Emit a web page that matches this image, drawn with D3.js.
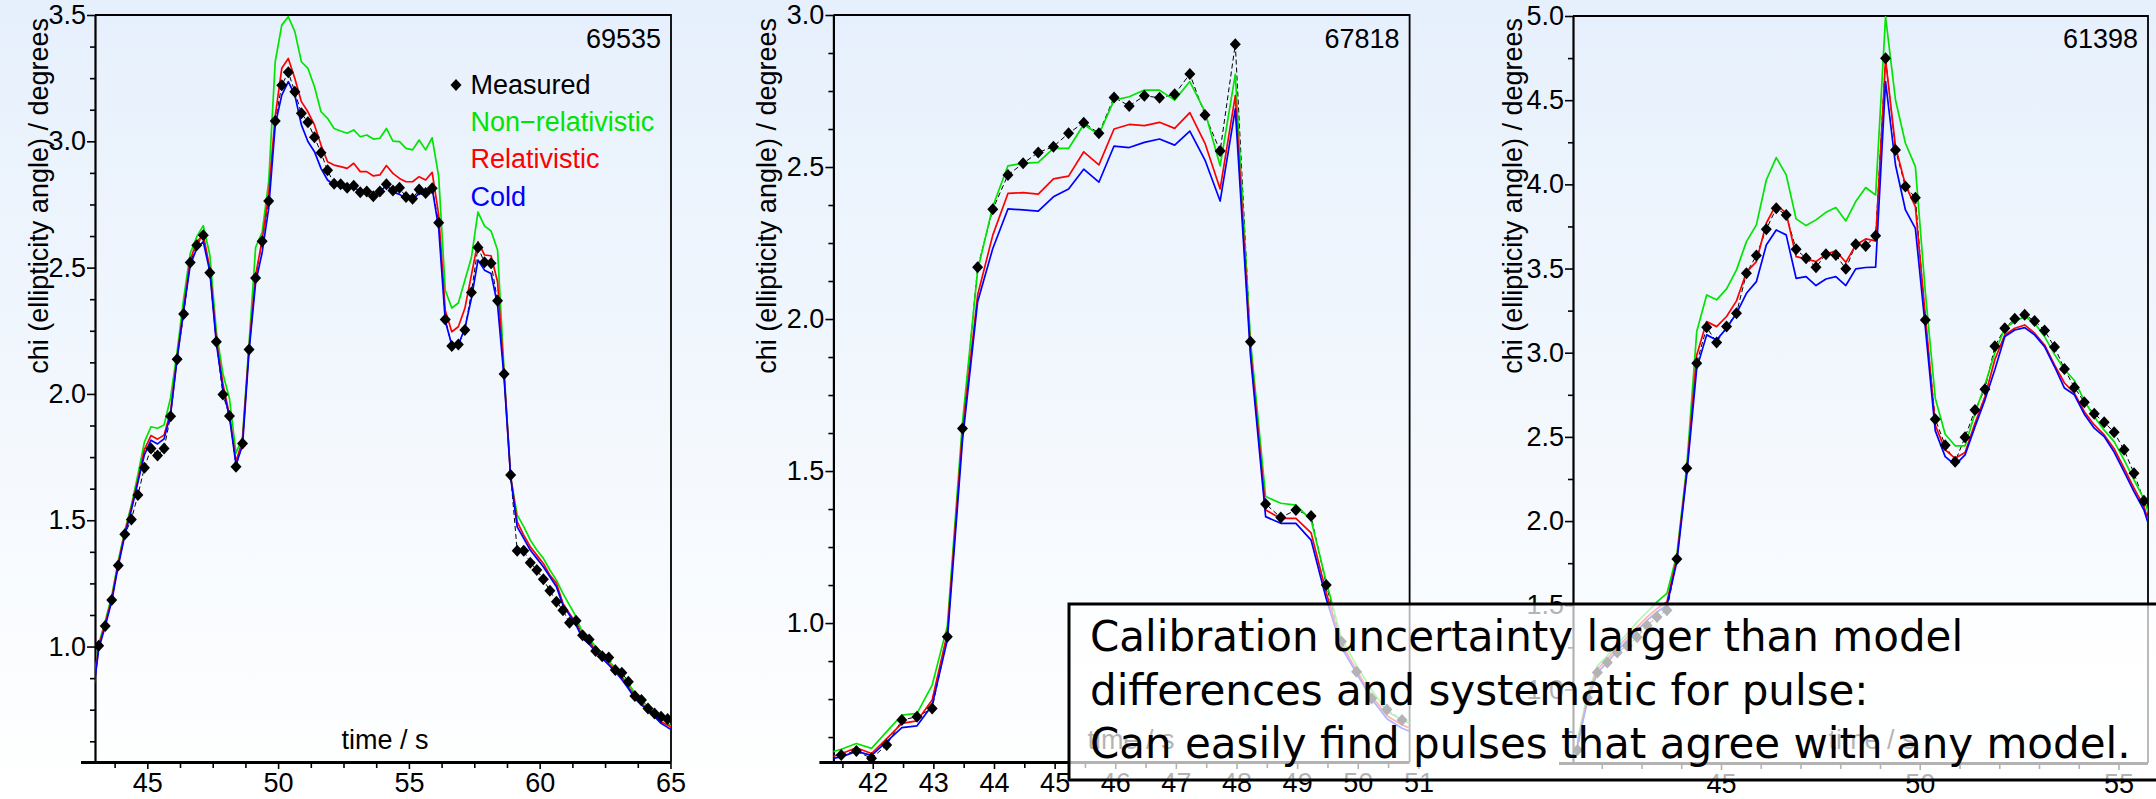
<!DOCTYPE html>
<html>
<head>
<meta charset="utf-8">
<script src="https://cdn.jsdelivr.net/npm/d3@7"></script>
<style>
  html, body { margin: 0; padding: 0; background: #ffffff; }
  svg { display: block; }
</style>
</head>
<body>
<script>
// ---------- Shot 69535 ----------
const p1Time = [43.14,43.39,43.64,43.89,44.14,44.39,44.64,44.89,45.14,45.39,
  45.64,45.89,46.14,46.39,46.64,46.89,47.14,47.39,47.64,47.89,
  48.14,48.39,48.64,48.89,49.14,49.39,49.64,49.89,50.14,50.39,
  50.64,50.89,51.14,51.39,51.64,51.89,52.14,52.39,52.64,52.89,
  53.14,53.39,53.64,53.89,54.14,54.39,54.64,54.89,55.14,55.39,
  55.64,55.89,56.14,56.39,56.64,56.89,57.14,57.39,57.64,57.89,
  58.14,58.39,58.64,58.89,59.14,59.39,59.64,59.89,60.14,60.39,
  60.64,60.89,61.14,61.39,61.64,61.89,62.14,62.39,62.64,62.89,
  63.14,63.39,63.64,63.89,64.14,64.39,64.64,64.89];
const p1Measured = [1.003,1.081,1.184,1.321,1.445,1.503,1.600,1.708,1.784,1.756,
  1.784,1.912,2.137,2.316,2.520,2.589,2.628,2.480,2.207,1.998,
  1.913,1.712,1.804,2.176,2.459,2.604,2.764,3.080,3.222,3.273,
  3.196,3.111,3.075,3.016,2.955,2.885,2.832,2.830,2.816,2.824,
  2.798,2.801,2.783,2.801,2.830,2.805,2.816,2.780,2.773,2.809,
  2.795,2.814,2.678,2.295,2.190,2.196,2.253,2.402,2.580,2.521,
  2.517,2.369,2.079,1.679,1.379,1.379,1.332,1.303,1.266,1.221,
  1.177,1.144,1.094,1.102,1.045,1.028,0.982,0.962,0.957,0.907,
  0.896,0.861,0.804,0.788,0.755,0.735,0.722,0.713];
// model curves are sampled one step beyond each end of the measured window
const p1ModelTime = [42.89].concat(p1Time, [65.14]);
const p1NonRel = [0.79,
  1.01,1.10,1.20,1.34,1.46,1.56,1.68,1.81,1.87,1.864,
  1.877,1.985,2.167,2.378,2.556,2.622,2.666,2.55,2.246,2.08,
  1.982,1.765,1.83,2.2,2.58,2.64,2.84,3.315,3.46,3.493,
  3.434,3.315,3.289,3.216,3.117,3.091,3.051,3.041,3.032,3.045,
  3.018,3.025,3.009,3.012,3.051,3.001,2.999,2.972,2.966,3.005,
  2.966,3.014,2.86,2.41,2.34,2.36,2.45,2.54,2.72,2.665,
  2.645,2.57,2.09,1.672,1.521,1.475,1.422,1.382,1.349,1.303,
  1.263,1.210,1.164,1.118,1.052,1.032,0.999,0.973,0.944,0.914,
  0.880,0.854,0.815,0.788,0.762,0.735,0.716,0.696,
  0.675];
const p1Rel = [0.78,
  1.00,1.09,1.19,1.33,1.45,1.55,1.66,1.78,1.835,1.821,
  1.837,1.93,2.147,2.34,2.53,2.603,2.629,2.497,2.213,2.04,
  1.916,1.732,1.817,2.185,2.47,2.61,2.79,3.10,3.289,3.328,
  3.249,3.157,3.117,3.065,2.985,2.919,2.906,2.90,2.893,2.913,
  2.88,2.88,2.863,2.867,2.904,2.873,2.853,2.84,2.84,2.86,
  2.847,2.877,2.708,2.33,2.246,2.266,2.339,2.471,2.603,2.55,
  2.547,2.444,2.075,1.675,1.494,1.441,1.395,1.362,1.329,1.283,
  1.250,1.171,1.131,1.092,1.039,1.019,0.986,0.960,0.933,0.907,
  0.880,0.841,0.801,0.775,0.751,0.725,0.702,0.689,
  0.672];
const p1Cold = [0.78,
  0.99,1.08,1.18,1.32,1.44,1.54,1.65,1.76,1.817,1.802,
  1.822,1.92,2.14,2.33,2.51,2.576,2.603,2.484,2.20,2.02,
  1.91,1.72,1.797,2.17,2.44,2.56,2.735,3.065,3.183,3.236,
  3.183,3.065,2.999,2.959,2.893,2.847,2.827,2.824,2.814,2.820,
  2.80,2.798,2.781,2.798,2.827,2.80,2.79,2.774,2.768,2.794,
  2.787,2.814,2.655,2.29,2.194,2.194,2.26,2.378,2.53,2.49,
  2.477,2.352,2.062,1.67,1.474,1.428,1.382,1.349,1.316,1.276,
  1.237,1.164,1.125,1.085,1.032,1.010,0.980,0.953,0.927,0.900,
  0.870,0.834,0.795,0.768,0.749,0.722,0.696,0.680,
  0.665];

// ---------- Shot 67818 ----------
const p2Time = [41.48,41.73,41.98,42.23,42.48,42.73,42.98,43.23,43.48,43.73,
  43.98,44.23,44.48,44.73,44.98,45.23,45.48,45.73,45.98,46.23,
  46.48,46.73,46.98,47.23,47.48,47.73,47.98,48.23,48.48,48.73,
  48.98,49.23,49.48,49.73,49.98,50.23,50.48,50.73];
const p2Measured = [0.566,0.579,0.555,0.599,0.681,0.692,0.719,0.955,1.640,2.170,
  2.361,2.474,2.512,2.548,2.567,2.611,2.646,2.611,2.729,2.701,
  2.734,2.728,2.739,2.806,2.671,2.553,2.904,1.925,1.392,1.347,
  1.372,1.352,1.125,0.939,0.840,0.752,0.716,0.681];
const p2ModelTime = [41.23].concat(p2Time, [50.98]);
const p2NonRel = [0.57,
  0.585,0.604,0.588,0.643,0.697,0.703,0.796,0.99,1.66,2.16,
  2.370,2.504,2.512,2.515,2.561,2.561,2.640,2.607,2.720,2.731,
  2.753,2.753,2.720,2.781,2.682,2.504,2.805,1.93,1.416,1.394,
  1.388,1.339,1.136,0.95,0.86,0.78,0.71,0.681,
  0.66];
const p2Rel = [0.555,
  0.57,0.59,0.571,0.62,0.67,0.678,0.747,0.966,1.63,2.079,
  2.276,2.413,2.416,2.411,2.461,2.470,2.550,2.507,2.625,2.640,
  2.636,2.647,2.627,2.679,2.578,2.428,2.735,1.90,1.372,1.344,
  1.344,1.297,1.10,0.93,0.845,0.76,0.695,0.665,
  0.645];
const p2Cold = [0.55,
  0.56,0.578,0.565,0.61,0.656,0.662,0.73,0.944,1.6,2.057,
  2.232,2.362,2.359,2.355,2.402,2.428,2.493,2.450,2.569,2.564,
  2.581,2.592,2.572,2.618,2.523,2.388,2.691,1.88,1.35,1.328,
  1.328,1.273,1.08,0.92,0.835,0.75,0.685,0.654,
  0.635];

// ---------- Shot 61398 ----------
const p3Time = [41.39,41.64,41.89,42.14,42.39,42.64,42.89,43.14,43.39,43.64,
  43.89,44.14,44.39,44.64,44.89,45.14,45.39,45.64,45.89,46.14,
  46.39,46.64,46.89,47.14,47.39,47.64,47.89,48.14,48.39,48.64,
  48.89,49.14,49.39,49.64,49.89,50.14,50.39,50.64,50.89,51.14,
  51.39,51.64,51.89,52.14,52.39,52.64,52.89,53.14,53.39,53.64,
  53.89,54.14,54.39,54.64,54.89,55.14,55.39,55.64];
const p3Measured = [0.64,0.95,1.10,1.16,1.22,1.26,1.31,1.38,1.43,1.47,
  1.774,2.314,2.938,3.151,3.060,3.155,3.234,3.472,3.577,3.733,
  3.858,3.818,3.614,3.561,3.508,3.585,3.581,3.498,3.644,3.634,
  3.694,4.749,4.204,3.987,3.921,3.195,2.605,2.450,2.353,2.498,
  2.660,2.783,3.038,3.145,3.201,3.225,3.189,3.132,3.034,2.903,
  2.794,2.706,2.637,2.587,2.527,2.423,2.284,2.12];
const p3ModelTime = p3Time.concat([55.89]);
const p3NonRel = [0.70,0.97,1.14,1.20,1.27,1.33,1.40,1.46,1.52,1.57,
  1.80,2.33,3.126,3.343,3.314,3.379,3.492,3.660,3.759,4.026,
  4.159,4.056,3.795,3.755,3.789,3.834,3.862,3.783,3.898,3.981,
  3.937,4.996,4.501,4.244,4.105,3.36,2.730,2.516,2.447,2.447,
  2.64,2.81,3.0,3.145,3.185,3.215,3.175,3.096,2.99,2.90,
  2.835,2.715,2.62,2.54,2.472,2.363,2.245,2.13,
  1.95];
const p3Rel = [0.68,0.95,1.12,1.18,1.25,1.31,1.37,1.43,1.48,1.52,
  1.78,2.30,2.987,3.185,3.155,3.215,3.308,3.478,3.541,3.769,
  3.882,3.828,3.571,3.557,3.541,3.585,3.605,3.537,3.640,3.676,
  3.664,4.74,4.224,3.996,3.868,3.22,2.57,2.423,2.373,2.407,
  2.581,2.74,2.96,3.106,3.145,3.165,3.116,3.046,2.928,2.82,
  2.76,2.65,2.571,2.512,2.43,2.314,2.195,2.086,
  1.89];
const p3Cold = [0.67,0.93,1.10,1.16,1.23,1.29,1.35,1.41,1.46,1.50,
  1.76,2.28,2.908,3.106,3.076,3.145,3.234,3.353,3.422,3.640,
  3.729,3.700,3.442,3.452,3.399,3.438,3.452,3.399,3.498,3.506,
  3.508,4.610,4.115,3.848,3.739,3.15,2.537,2.383,2.334,2.393,
  2.561,2.72,2.90,3.096,3.135,3.149,3.106,3.036,2.918,2.79,
  2.75,2.635,2.552,2.502,2.41,2.294,2.175,2.066,
  1.88];

// ---------- Axis ticks ----------
const p1XTicks = [45, 50, 55, 60, 65];
const p2XTicks = [42, 43, 44, 45, 46, 47, 48, 49, 50, 51];
const p3XTicks = [45, 50, 55];
const p1YTicks = [1.0, 1.5, 2.0, 2.5, 3.0, 3.5];
const p2YTicks = [1.0, 1.5, 2.0, 2.5, 3.0];
const p3YTicks = [1.0, 1.5, 2.0, 2.5, 3.0, 3.5, 4.0, 4.5, 5.0];

const shotLabels = ['69535', '67818', '61398'];
const legendLabels = ['Measured', 'Non\u2212relativistic', 'Relativistic', 'Cold'];
const noteLines = ['Calibration uncertainty larger than model',
  'differences and systematic for pulse:',
  'Can easily find pulses that agree with any model.'];

// ---------- Drawing ----------
const W = 2156, H = 799;
const FONT = '"Liberation Sans", Arial, Helvetica, sans-serif';
const COL = { nonrel: '#00e400', rel: '#ff0000', cold: '#0000ff' };

const svg = d3.select('body').append('svg').attr('width', W).attr('height', H);
const defs = svg.append('defs');
const grad = defs.append('linearGradient').attr('id', 'bg')
  .attr('x1', 0).attr('y1', 0).attr('x2', 0).attr('y2', 1);
grad.append('stop').attr('offset', '0%').attr('stop-color', '#e6f0fc');
grad.append('stop').attr('offset', '100%').attr('stop-color', '#ffffff');
svg.append('rect').attr('width', W).attr('height', H).attr('fill', 'url(#bg)');

const panels = [
  { key: 'p1', left: 95, right: 671, top: 15, bottom: 762,
    xDomain: [43, 65.02], yDomain: [0.543, 3.5],
    xTicks: p1XTicks, xMinorStep: 1.25, yTicks: p1YTicks, yMinorStep: 0.125,
    time: p1Time, measured: p1Measured, modelTime: p1ModelTime,
    nonrel: p1NonRel, rel: p1Rel, cold: p1Cold,
    shot: shotLabels[0], yLabelX: 48, xLabelX: 385, legend: true },
  { key: 'p2', left: 833.4, right: 1409.6, top: 15, bottom: 762,
    xDomain: [41.351, 50.855], yDomain: [0.543, 3.0],
    xTicks: p2XTicks, xMinorStep: 0.5, yTicks: p2YTicks, yMinorStep: 0.125,
    time: p2Time, measured: p2Measured, modelTime: p2ModelTime,
    nonrel: p2NonRel, rel: p2Rel, cold: p2Cold,
    shot: shotLabels[1], yLabelX: 776, xLabelX: 1131, legend: false },
  { key: 'p3', left: 1573, right: 2148, top: 16, bottom: 763,
    xDomain: [41.277, 55.742], yDomain: [0.563, 5.0],
    xTicks: p3XTicks, xMinorStep: 1, yTicks: p3YTicks, yMinorStep: 0.25,
    time: p3Time, measured: p3Measured, modelTime: p3ModelTime,
    nonrel: p3NonRel, rel: p3Rel, cold: p3Cold,
    shot: shotLabels[2], yLabelX: 1522, xLabelX: 1872, legend: false }
];

const diamond = 'M0,-6L5.5,0L0,6L-5.5,0Z';

panels.forEach(p => {
  const x = d3.scaleLinear().domain(p.xDomain).range([p.left, p.right]);
  const y = d3.scaleLinear().domain(p.yDomain).range([p.bottom, p.top]);
  const g = svg.append('g').attr('class', p.key);

  defs.append('clipPath').attr('id', 'clip-' + p.key)
    .append('rect').attr('x', p.left).attr('y', p.top)
    .attr('width', p.right - p.left).attr('height', p.bottom - p.top);

  // minor tick positions between the labelled ticks
  const xMinor = d3.range(Math.ceil(p.xDomain[0] / p.xMinorStep) * p.xMinorStep,
    p.xDomain[1] + 1e-6, p.xMinorStep).filter(v => !p.xTicks.some(t => Math.abs(t - v) < 1e-6));
  const yMinor = d3.range(Math.ceil(p.yDomain[0] / p.yMinorStep) * p.yMinorStep,
    p.yDomain[1] + 1e-6, p.yMinorStep).filter(v => !p.yTicks.some(t => Math.abs(t - v) < 1e-6));

  // frame (top and right)
  g.append('path')
    .attr('d', `M${p.left},${p.top}H${p.right}V${p.bottom}`)
    .attr('fill', 'none').attr('stroke', '#000').attr('stroke-width', 1.8);

  // x axis
  const xMajorAxis = d3.axisBottom(x).tickValues(p.xTicks.filter(v => v <= p.xDomain[1] + 0.3))
    .tickSize(7).tickSizeOuter(0).tickPadding(4).tickFormat(d3.format('d'));
  const gx = g.append('g').attr('transform', `translate(0,${p.bottom})`).call(xMajorAxis);
  gx.select('.domain').attr('stroke-width', 3).attr('d', `M${p.left - 14},0.5H${p.right}`);
  gx.selectAll('line').attr('stroke-width', 1.6);
  gx.selectAll('text').attr('font-family', FONT).attr('font-size', 27).attr('fill', '#000');
  const gxm = g.append('g').attr('transform', `translate(0,${p.bottom})`)
    .call(d3.axisBottom(x).tickValues(xMinor).tickSize(6).tickFormat(''));
  gxm.select('.domain').remove();
  gxm.selectAll('line').attr('stroke-width', 1.6);

  // y axis
  const gy = g.append('g').attr('transform', `translate(${p.left},0)`)
    .call(d3.axisLeft(y).tickValues(p.yTicks).tickSize(8).tickSizeOuter(0).tickPadding(1)
      .tickFormat(d3.format('.1f')));
  gy.select('.domain').attr('stroke-width', 2.2);
  gy.selectAll('line').attr('stroke-width', 1.6);
  gy.selectAll('text').attr('font-family', FONT).attr('font-size', 27).attr('fill', '#000');
  const gym = g.append('g').attr('transform', `translate(${p.left},0)`)
    .call(d3.axisLeft(y).tickValues(yMinor).tickSize(5).tickFormat(''));
  gym.select('.domain').remove();
  gym.selectAll('line').attr('stroke-width', 1.6);

  // axis titles
  g.append('text')
    .attr('transform', `translate(${p.yLabelX},18) rotate(-90)`)
    .attr('text-anchor', 'end').attr('font-family', FONT).attr('font-size', 27)
    .text('chi (ellipticity angle) / degrees');
  g.append('text').attr('x', p.xLabelX).attr('y', 749)
    .attr('text-anchor', 'middle').attr('font-family', FONT).attr('font-size', 27)
    .text('time / s');

  // shot number
  g.append('text').attr('x', p.right - 10).attr('y', 48)
    .attr('text-anchor', 'end').attr('font-family', FONT).attr('font-size', 27)
    .text(p.shot);

  // data
  const plot = g.append('g').attr('clip-path', `url(#clip-${p.key})`);
  const line = d3.line().x(d => x(d[0])).y(d => y(d[1]));

  plot.append('path')
    .datum(p.time.map((t, i) => [t, p.measured[i]]))
    .attr('d', line).attr('fill', 'none').attr('stroke', '#000')
    .attr('stroke-width', 1).attr('stroke-dasharray', '5,3');

  [['nonrel', p.nonrel], ['rel', p.rel], ['cold', p.cold]].forEach(([k, vals]) => {
    plot.append('path')
      .datum(p.modelTime.map((t, i) => [t, vals[i]]))
      .attr('d', line).attr('fill', 'none').attr('stroke', COL[k])
      .attr('stroke-width', 1.7).attr('stroke-linejoin', 'round');
  });

  plot.selectAll('path.pt')
    .data(p.time.map((t, i) => [t, p.measured[i]]))
    .join('path').attr('class', 'pt')
    .attr('d', diamond)
    .attr('transform', d => `translate(${x(d[0])},${y(d[1])})`)
    .attr('fill', '#000');

  if (p.legend) {
    const lg = g.append('g').attr('font-family', FONT).attr('font-size', 27);
    lg.append('path').attr('d', diamond).attr('transform', 'translate(456,85)').attr('fill', '#000');
    const cols = ['#000', COL.nonrel, COL.rel, COL.cold];
    legendLabels.forEach((lab, i) => {
      lg.append('text').attr('x', 470.5).attr('y', 94 + i * 37.2)
        .attr('fill', cols[i]).text(lab);
    });
  }
});

// annotation box
const note = svg.append('g');
note.append('rect').attr('x', 1069).attr('y', 604).attr('width', 1100).attr('height', 176)
  .attr('fill', '#ffffff').attr('fill-opacity', 0.7)
  .attr('stroke', '#000').attr('stroke-width', 3);
noteLines.forEach((t, i) => {
  note.append('text').attr('x', 1090).attr('y', 651 + i * 53.5)
    .attr('font-family', '"DejaVu Sans", sans-serif').attr('font-size', 42)
    .attr('fill', '#000').text(t);
});
</script>
</body>
</html>
